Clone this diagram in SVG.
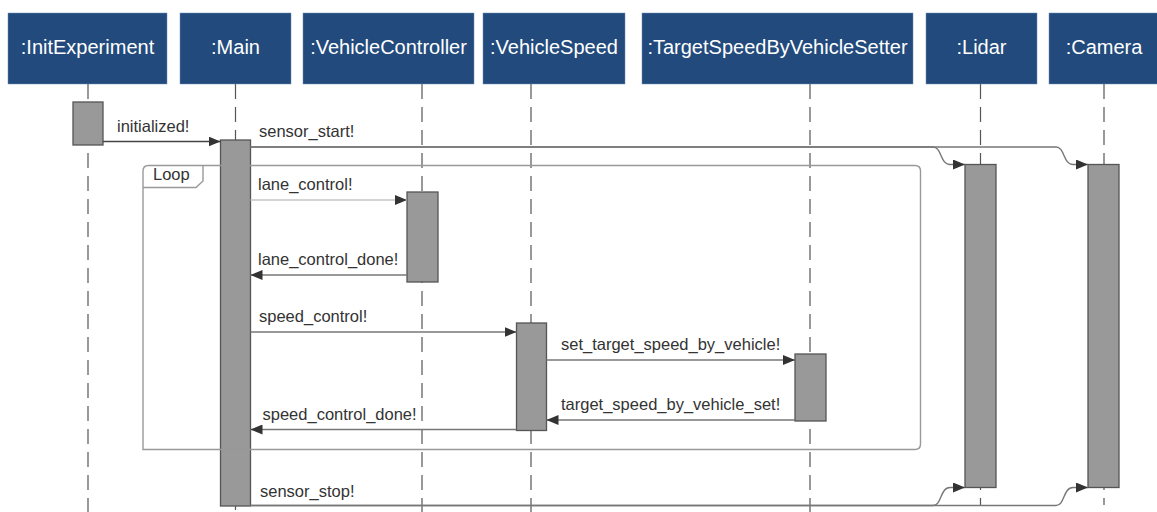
<svg xmlns="http://www.w3.org/2000/svg" width="1157" height="512" viewBox="0 0 1157 512">
  <style>
    .head { fill: #224a7c; stroke: #6f8fb5; stroke-width: 0.5; }
    .head-text { font-family: "Liberation Sans", Arial, sans-serif; font-size: 20px; fill: #ffffff; text-anchor: middle; }
    .life { stroke: #555555; stroke-width: 1.2; stroke-dasharray: 15 8; fill: none; }
    .act { fill: #999999; stroke: #555555; stroke-width: 1.3; }
    .msg { stroke: #777777; stroke-width: 1.4; fill: none; marker-end: url(#arrow); }
    .msg-light { stroke: #c4c4c4; }
    .msg-dark { stroke: #444444; }
    .label { font-family: "Liberation Sans", Arial, sans-serif; font-size: 16.5px; fill: #333333; }
    .frame { fill: none; stroke: #999999; stroke-width: 1.4; }
  </style>
  <defs>
    <marker id="arrow" viewBox="0 0 12 10" refX="12" refY="5" markerWidth="12" markerHeight="10" markerUnits="userSpaceOnUse" orient="auto">
      <path d="M0,0 L12,5 L0,10 Z" fill="#333333"/>
    </marker>
  </defs>

  <!-- lifelines -->
  <g id="lifelines">
    <line class="life" x1="88" y1="84" x2="88" y2="512"/>
    <line class="life" x1="235.5" y1="84" x2="235.5" y2="510"/>
    <line class="life" x1="422" y1="84" x2="422" y2="512"/>
    <line class="life" x1="531" y1="84" x2="531" y2="512"/>
    <line class="life" x1="810" y1="84" x2="810" y2="512"/>
    <line class="life" x1="980.5" y1="84" x2="980.5" y2="505"/>
    <line class="life" x1="1104" y1="84" x2="1104" y2="505"/>
  </g>

  <!-- participants -->
  <g id="initExperiment">
    <rect class="head" x="8" y="13" width="159" height="71"/>
    <text class="head-text" x="87.5" y="54">:InitExperiment</text>
    <rect class="act" x="73" y="102" width="30" height="43"/>
  </g>
  <g id="main">
    <rect class="head" x="180" y="13" width="111" height="71"/>
    <text class="head-text" x="235.5" y="54">:Main</text>
    <rect class="act" x="220.5" y="140" width="30" height="366"/>
  </g>
  <g id="vehicleController">
    <rect class="head" x="303" y="13" width="171" height="71"/>
    <text class="head-text" x="388.5" y="54">:VehicleController</text>
    <rect class="act" x="407" y="192" width="31" height="90"/>
  </g>
  <g id="vehicleSpeed">
    <rect class="head" x="483" y="13" width="142" height="71"/>
    <text class="head-text" x="554" y="54">:VehicleSpeed</text>
    <rect class="act" x="516.5" y="323" width="30" height="107.5"/>
  </g>
  <g id="targetSpeedByVehicleSetter">
    <rect class="head" x="642" y="13" width="271" height="71"/>
    <text class="head-text" x="777.5" y="54">:TargetSpeedByVehicleSetter</text>
    <rect class="act" x="795" y="354" width="31" height="67"/>
  </g>
  <g id="lidar">
    <rect class="head" x="926" y="13" width="111" height="71"/>
    <text class="head-text" x="981.5" y="54">:Lidar</text>
    <rect class="act" x="965" y="164.5" width="31" height="323"/>
  </g>
  <g id="camera">
    <rect class="head" x="1049" y="13" width="110" height="71"/>
    <text class="head-text" x="1104" y="54">:Camera</text>
    <rect class="act" x="1088" y="164.5" width="31" height="323"/>
  </g>

  <!-- combined fragment -->
  <g id="loop">
    <path class="frame" d="M143,171 Q143,165.5 148.5,165.5 H915 Q920.5,165.5 920.5,171 V444 Q920.5,449.5 915,449.5 H143 Z"/>
    <path class="frame" d="M143,187.5 H196 L203,181 V165.5"/>
    <text class="label" x="153" y="180">Loop</text>
  </g>

  <!-- messages -->
  <g id="connectors">
    <path class="msg msg-dark" d="M103,141.5 H220.5"/>
    <text class="label" x="117" y="132">initialized!</text>

    <path class="msg" d="M250.5,147 H933 C942,147 940,164.5 950,164.5 H965"/>
    <path class="msg" d="M250.5,147 H1056 C1065,147 1063,164.5 1073,164.5 H1088"/>
    <text class="label" x="259" y="137">sensor_start!</text>

    <path class="msg msg-light" d="M250.5,200 H407"/>
    <text class="label" x="258" y="190">lane_control!</text>

    <path class="msg" d="M407,275 H250.5"/>
    <text class="label" x="258" y="265">lane_control_done!</text>

    <path class="msg" d="M250.5,332 H516.5"/>
    <text class="label" x="259" y="322">speed_control!</text>

    <path class="msg" d="M546.5,360 H795"/>
    <text class="label" x="561" y="350">set_target_speed_by_vehicle!</text>

    <path class="msg" d="M795,420 H546.5"/>
    <text class="label" x="561" y="410">target_speed_by_vehicle_set!</text>

    <path class="msg" d="M516.5,429.5 H250.5"/>
    <text class="label" x="262.5" y="420">speed_control_done!</text>

    <path class="msg" d="M250.5,505.5 H933 C942,505.5 940,487.5 950,487.5 H965"/>
    <path class="msg" d="M250.5,505.5 H1056 C1065,505.5 1063,487.5 1073,487.5 H1088"/>
    <text class="label" x="260" y="497">sensor_stop!</text>
  </g>
</svg>
